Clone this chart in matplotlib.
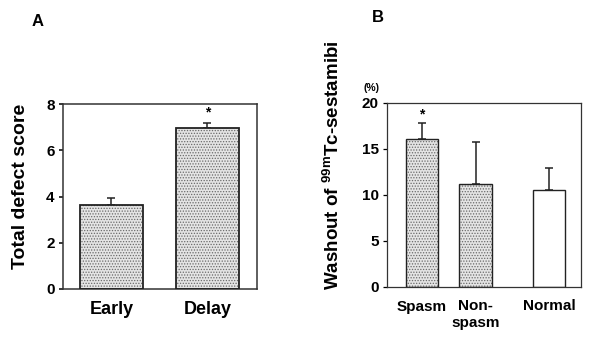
import matplotlib
matplotlib.use("Agg")
import matplotlib.pyplot as plt
import numpy as np

plt.rcParams["font.family"] = ["Liberation Sans", "DejaVu Sans"]
plt.rcParams["font.weight"] = "bold"
plt.rcParams["axes.labelweight"] = "bold"
plt.rcParams["mathtext.fontset"] = "custom"
plt.rcParams["mathtext.rm"] = "Liberation Sans:bold"
plt.rcParams["mathtext.bf"] = "Liberation Sans:bold"
plt.rcParams["hatch.linewidth"] = 0.6

# panel A
a_labels = ["Early", "Delay"]
a_values = [3.63, 6.97]
a_errors = [0.32, 0.2]
a_star = [False, True]

# panel B
b_labels = ["Spasm", "Non-\nspasm", "Normal"]
b_values = [16.1, 11.2, 10.5]
b_errors = [1.7, 4.6, 2.4]
b_star = [True, False, False]
b_dotted = [True, True, False]

W, H = 595, 346
fig = plt.figure(figsize=(W / 100, H / 100), dpi=100)


def px_axes(left, top, right, bottom):
    return fig.add_axes([left / W, 1 - bottom / H, (right - left) / W, (bottom - top) / H])


def draw_bars(ax, pos, values, errors, width, dotted, lw):
    for x, v, e, d in zip(pos, values, errors, dotted):
        if d:
            ax.bar(x, v, width, color="#e4e4e4", hatch="......", edgecolor="#6a6a6a", linewidth=0, zorder=2)
        else:
            ax.bar(x, v, width, color="white", linewidth=0, zorder=2)
        ax.bar(x, v, width, fill=False, edgecolor="#222222", linewidth=lw, zorder=3)
        ax.errorbar(x, v, yerr=[[0], [e]], color="#222222", capsize=3, elinewidth=1.1,
                    capthick=1.1, zorder=1)


def style_axes(ax, lw):
    for s in ax.spines.values():
        s.set_linewidth(lw)
        s.set_color("#333333")
    ax.tick_params(axis="x", length=0, pad=9)
    ax.tick_params(axis="y", direction="out", length=3, width=lw, pad=3)


# A
axA = px_axes(63, 104, 257, 289)
posA = np.arange(len(a_values))
draw_bars(axA, posA, a_values, a_errors, 0.656, [True, True], 1.3)
for x, v, e, s in zip(posA, a_values, a_errors, a_star):
    if s:
        axA.text(x, v + e + 0.15, "*", ha="center", va="bottom", fontsize=10)
axA.set_xlim(-0.505, 1.516)
axA.set_ylim(0, 8)
axA.set_yticks([0, 2, 4, 6, 8])
axA.set_xticks(posA)
axA.set_xticklabels(a_labels, fontsize=13)
axA.tick_params(axis="y", labelsize=11)
style_axes(axA, 1.1)
fig.text(21 / W, 1 - 186 / H, "Total defect score", fontsize=14, rotation=90,
         ha="center", va="center")
fig.text(38 / W, 1 - 22 / H, "A", fontsize=12, ha="center", va="center")

# B
axB = px_axes(387, 103, 581, 287)
posB = np.array([0, 1, 2.37])
draw_bars(axB, posB, b_values, b_errors, 0.6, b_dotted, 1.0)
for x, v, e, s in zip(posB, b_values, b_errors, b_star):
    if s:
        axB.text(x, v + e + 0.2, "*", ha="center", va="bottom", fontsize=10)
axB.set_xlim(-0.654, 2.97)
axB.set_ylim(0, 20)
axB.set_yticks([0, 5, 10, 15, 20])
axB.set_xticks(posB)
axB.set_xticklabels(b_labels, fontsize=11, va="top", linespacing=1.2)
axB.tick_params(axis="y", labelsize=11)
style_axes(axB, 0.9)
fig.text(333 / W, 1 - 165 / H, r"Washout of $^{\mathrm{99m}}$Tc-sestamibi", fontsize=13.5,
         rotation=90, ha="center", va="center")
fig.text(371 / W, 1 - 88 / H, "(%)", fontsize=7.5, ha="center", va="center")
fig.text(378 / W, 1 - 18 / H, "B", fontsize=12, ha="center", va="center")

fig.savefig("out.png", dpi=100)
